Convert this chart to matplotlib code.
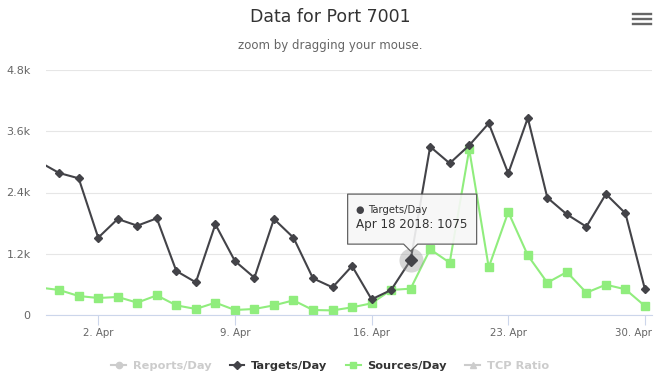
import matplotlib
matplotlib.use("Agg")
import matplotlib.pyplot as plt
import matplotlib.dates as mdates
from matplotlib.lines import Line2D
from matplotlib.patches import Polygon
from matplotlib.transforms import IdentityTransform, ScaledTranslation
from matplotlib.ticker import FixedLocator, FuncFormatter
import pandas as pd

plt.rcParams['font.family'] = ['DejaVu Sans']

# daily values, 30 Mar 2018 .. 30 Apr 2018
days = pd.date_range("2018-03-30", "2018-04-30", freq="D")
targets = [2996, 2782, 2678, 1515, 1881, 1750, 1894, 862, 640, 1777, 1058, 731,
           1881, 1515, 718, 542, 960, 307, 490, 1075, 3298, 2972, 3324, 3755,
           2775, 3860, 2299, 1972, 1730, 2370, 1992, 503]
sources = [538, 490, 372, 333, 353, 242, 385, 189, 118, 242, 98, 118,
           189, 287, 98, 90, 150, 229, 490, 516, 1287, 1025, 3246, 934,
           2018, 1169, 633, 842, 437, 594, 503, 176]
tick_days = pd.to_datetime(["2018-04-02", "2018-04-09", "2018-04-16",
                            "2018-04-23", "2018-04-30"])
y_ticks = [0, 1200, 2400, 3600, 4800]
y_labels = ["0", "1.2k", "2.4k", "3.6k", "4.8k"]
hover_day = pd.Timestamp("2018-04-18")
hover_value = 1075

dark = "#434348"
green = "#90ed7d"
hidden = "#cccccc"

fig = plt.figure(figsize=(6.6, 3.84), dpi=100)
ax = fig.add_axes([46 / 660, 1 - 315 / 384, 606 / 660, 245 / 384])

xd = mdates.date2num(days)
ax.plot(xd, targets, color=dark, lw=1.5, marker="D", ms=4.2, zorder=3)
ax.plot(xd, sources, color=green, lw=1.5, marker="s", ms=5.5, zorder=2)

ax.set_xlim(mdates.date2num(pd.Timestamp("2018-03-30 07:50")),
            mdates.date2num(pd.Timestamp("2018-04-30 08:40")))
ax.set_ylim(0, 4800)

ax.yaxis.set_major_locator(FixedLocator(y_ticks))
ax.set_yticklabels(y_labels)
ax.xaxis.set_major_locator(FixedLocator(mdates.date2num(tick_days)))
ax.xaxis.set_major_formatter(FuncFormatter(
    lambda v, p: f"{mdates.num2date(v).day}. {mdates.num2date(v):%b}"))

ax.grid(axis="y", color="#e6e6e6", lw=0.8)
ax.set_axisbelow(True)
for s in ["top", "right", "left"]:
    ax.spines[s].set_visible(False)
ax.spines["bottom"].set_color("#ccd6eb")
ax.tick_params(axis="y", length=0, pad=11, labelsize=8, labelcolor="#666666")
ax.tick_params(axis="x", length=7, color="#ccd6eb", pad=2.5, labelsize=7.4,
               labelcolor="#666666")

# last date label pushed inside the chart like the original
fig.canvas.draw()
last = ax.get_xticklabels()[-1]
last.set_ha("right")
last.set_transform(last.get_transform() +
                   ScaledTranslation(7 / 100, 0, fig.dpi_scale_trans))

fig.text(0.5, 1 - 17 / 384, "Data for Port 7001", ha="center", va="center",
         fontsize=12.5, color="#333333")
fig.text(0.5, 1 - 46 / 384, "zoom by dragging your mouse.", ha="center",
         va="center", fontsize=8.5, color="#666666")

# export menu icon
for yy in [14, 19, 24]:
    fig.add_artist(Line2D([633 / 660, 651 / 660], [1 - yy / 384] * 2,
                          color="#666666", lw=1.7))

# hover halo + tooltip
hx = mdates.date2num(hover_day)
ax.scatter([hx], [hover_value], s=300, color="#999999", alpha=0.4, zorder=4,
           lw=0)
ax.plot([hx], [hover_value], marker="D", ms=6, color=dark, zorder=5)

fig.canvas.draw()
px, py = ax.transData.transform((hx, hover_value))
L, R, B, T, tip = px - 63, px + 66, py + 16, py + 66, py + 9
shape = Polygon([(L, T), (R, T), (R, B), (px + 7, B), (px, tip), (px - 7, B),
                 (L, B)], closed=True, transform=IdentityTransform(),
                facecolor="#f7f7f7", edgecolor="#555555", lw=0.9, alpha=0.9,
                joinstyle="round", zorder=10)
fig.add_artist(shape)
fig.text((L + 8) / 660, (T - 16) / 384, "●", color=dark, fontsize=7,
         va="center", ha="left", zorder=11)
fig.text((L + 20) / 660, (T - 16) / 384, "Targets/Day", color="#333333",
         fontsize=7.2, va="center", ha="left", zorder=11)
fig.text((L + 8) / 660, (T - 30) / 384, f"Apr 18 2018: {hover_value}",
         color="#333333", fontsize=8.6, va="center", ha="left", zorder=11)

# legend (first and last series hidden)
handles = [
    Line2D([], [], color=hidden, lw=1.5, marker="o", ms=4.5),
    Line2D([], [], color=dark, lw=1.5, marker="D", ms=4),
    Line2D([], [], color=green, lw=1.5, marker="s", ms=5),
    Line2D([], [], color=hidden, lw=1.5, marker="^", ms=5),
]
names = ["Reports/Day", "Targets/Day", "Sources/Day", "TCP Ratio"]
leg = fig.legend(handles, names, loc="center", ncol=4, frameon=False,
                 bbox_to_anchor=(0.5, 1 - 366 / 384), handlelength=1.3,
                 handletextpad=0.6, columnspacing=1.6,
                 prop={"weight": "bold", "size": 8.2})
for t, c in zip(leg.get_texts(), [hidden, "#333333", "#333333", hidden]):
    t.set_color(c)

fig.savefig("out.png", dpi=100)
